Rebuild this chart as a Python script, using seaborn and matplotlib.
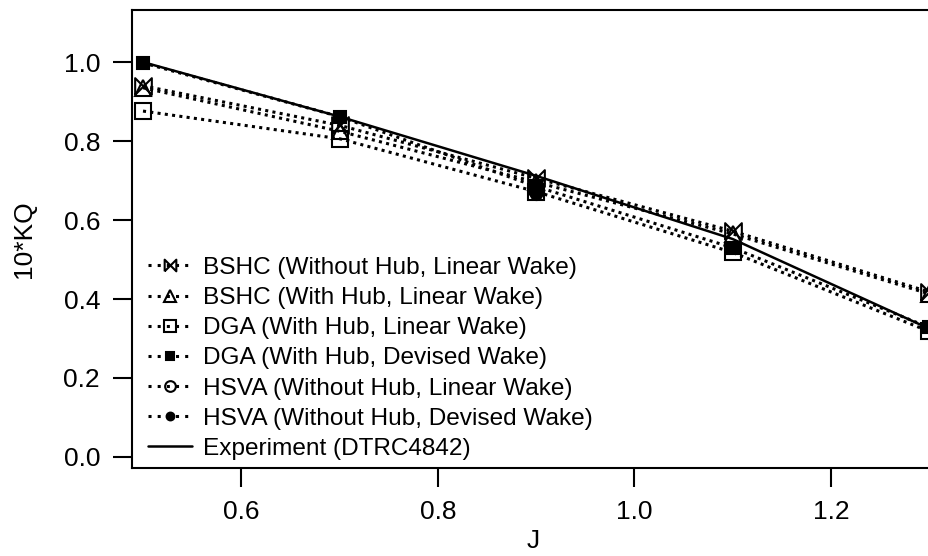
import matplotlib
matplotlib.use('Agg')
import matplotlib.pyplot as plt
import seaborn as sns

# advance ratio
J = [0.5, 0.7, 0.9, 1.1, 1.3]
J_HSVA = [0.9]

# 10*KQ
bshc_nohub_linear = [0.940, 0.840, 0.706, 0.572, 0.418]
bshc_hub_linear = [0.935, 0.825, 0.696, 0.565, 0.413]
dga_hub_linear = [0.876, 0.806, 0.672, 0.518, 0.318]
dga_hub_devised = [0.998, 0.862, 0.685, 0.530, 0.328]
hsva_nohub_linear = [0.676]
hsva_nohub_devised = [0.666]
experiment = [1.000, 0.862, 0.712, 0.552, 0.325]

x_ticks = [0.6, 0.8, 1.0, 1.2]
y_ticks = [0.0, 0.2, 0.4, 0.6, 0.8, 1.0]

# bowtie marker (horizontal hourglass)
BOWTIE = [(-1, -1), (1, 1), (1, -1), (-1, 1), (-1, -1)]
DOTS = (0, (1, 1.4))

sns.set_theme(style="white")
plt.rcParams['font.family'] = ['Liberation Sans', 'DejaVu Sans']

fig = plt.figure(figsize=(9.29, 5.56), dpi=100)
ax = fig.add_axes([132 / 929, 88 / 556, 803 / 929, 458 / 556])

series = [
    (J, bshc_nohub_linear, "BSHC (Without Hub, Linear Wake)", BOWTIE, 'none', 12),
    (J, bshc_hub_linear, "BSHC (With Hub, Linear Wake)", '^', 'none', 12),
    (J, dga_hub_linear, "DGA (With Hub, Linear Wake)", 's', 'none', 12),
    (J, dga_hub_devised, "DGA (With Hub, Devised Wake)", 's', 'black', 8),
    (J_HSVA, hsva_nohub_linear, "HSVA (Without Hub, Linear Wake)", 'o', 'none', 11),
    (J_HSVA, hsva_nohub_devised, "HSVA (Without Hub, Devised Wake)", 'o', 'black', 8),
]

# каждая расчётная серия — пунктир с маркерами
for xs, ys, label, mk, fc, ms in series:
    sns.lineplot(x=xs, y=ys, ax=ax, color='black', linestyle=DOTS, linewidth=2.2,
                 marker=mk, markersize=ms, markerfacecolor=fc,
                 markeredgecolor='black', markeredgewidth=1.5, label=label)

sns.lineplot(x=J, y=experiment, ax=ax, color='black', linewidth=1.8,
             label="Experiment (DTRC4842)")

ax.set_xlim(0.4888, 1.306)
ax.set_ylim(-0.028, 1.132)
ax.set_xticks(x_ticks)
ax.set_yticks(y_ticks)
ax.set_xticklabels([f"{v:.1f}" for v in x_ticks])
ax.set_yticklabels([f"{v:.1f}" for v in y_ticks])
ax.tick_params(axis='both', direction='out', length=14, width=1.5, pad=9,
               labelsize=19, color='black', labelcolor='black',
               left=True, bottom=True)

ax.set_xlabel('J', fontsize=19, labelpad=4, color='black')
ax.set_ylabel('10*KQ', fontsize=19, labelpad=20, color='black')

for spine in ax.spines.values():
    spine.set_visible(True)
    spine.set_color('black')
    spine.set_linewidth(1.5)
ax.grid(False)

leg = ax.legend(loc='lower left', bbox_to_anchor=(16 / 803, 8 / 458),
                frameon=False, fontsize=17.6, handlelength=1.8,
                handletextpad=0.45, labelspacing=0.33, borderpad=0,
                borderaxespad=0, markerscale=0.7)
for t in leg.get_texts():
    t.set_color('black')
for h in leg.get_lines()[:6]:
    h.set_linestyle((0, (1, 2)))

fig.savefig('out.png', dpi=100)
plt.close(fig)
